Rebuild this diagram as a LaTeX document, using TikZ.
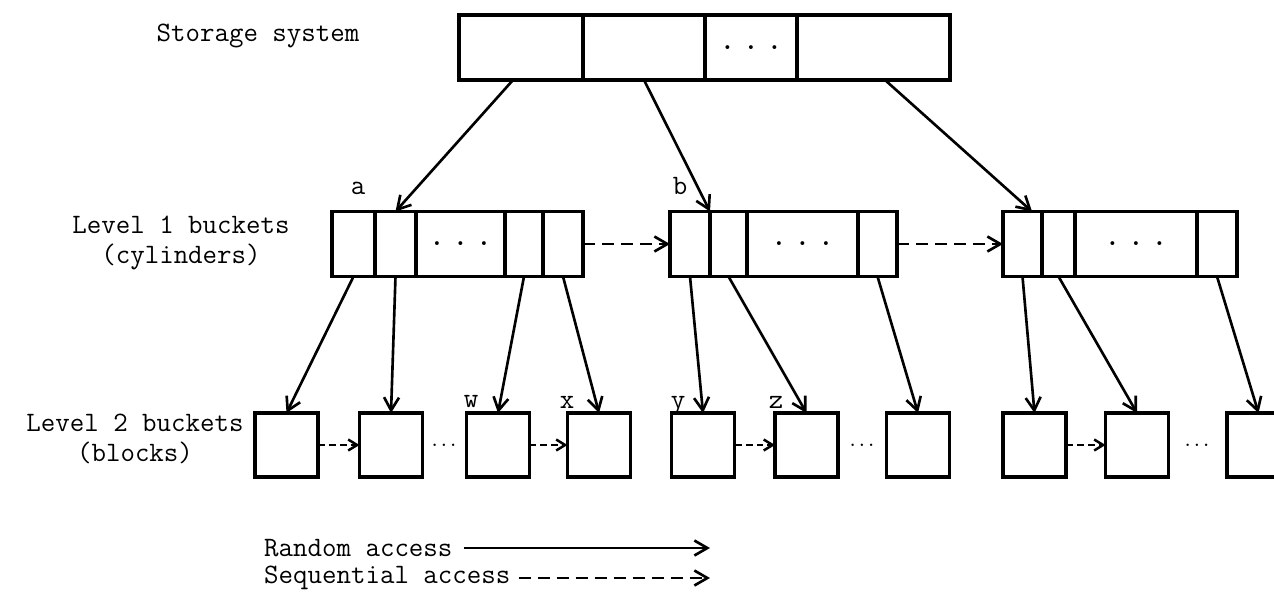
\documentclass[tikz,border=0pt]{standalone}
\usepackage{fontspec}
\usepackage{tikz}
\usetikzlibrary{arrows.meta,positioning}

\newcommand{\celldots}{\bfseries.\hspace{5pt}.\hspace{5pt}.}
\newcommand{\gapdots}{{\fontsize{10}{10}\selectfont\bfseries...}}

\tikzset{
  cell/.style={draw,line width=2pt,minimum height=1.3cm,inner sep=0pt,outer sep=0pt},
  block/.style={draw,line width=2pt,minimum width=1.26cm,minimum height=1.28cm,inner sep=0pt,outer sep=0pt},
  rand/.style={line width=1.5pt,-{Straight Barb[length=2.6mm,width=3mm]}},
  seq/.style={rand,dash pattern=on 0.24cm off 0.14cm},
  seqsmall/.style={line width=1.4pt,dash pattern=on 0.14cm off 0.08cm,-{Straight Barb[length=1.8mm,width=2.2mm]}}
}

\begin{document}
\begin{tikzpicture}[x=0.02cm,y=-0.02cm,font=\ttfamily\fontsize{16}{17}\selectfont]
\path[use as bounding box,clip] (0,0) rectangle (1274,602);
% storage system
\node (storage) at (258,36) {Storage system};
\node[cell,minimum width=2.48cm] (s1) at (521,47.5) {};
\node[cell,minimum width=2.44cm] (s2) at (644,47.5) {};
\node[cell,minimum width=1.84cm] (s3) at (751,47.5) {\celldots};
\node[cell,minimum width=3.06cm] (s4) at (873.5,47.5) {};
% level 1 buckets
\node[align=center] (lvlone) at (181,243) {Level 1 buckets\\(cylinders)};
\node[cell,minimum width=0.86cm] (p1) at (353.5,244) {};
\node[cell,minimum width=0.82cm] (p2) at (395.5,244) {};
\node[cell,minimum width=1.78cm] (p3) at (460.5,244) {\celldots};
\node[cell,minimum width=0.76cm] (p4) at (524,244) {};
\node[cell,minimum width=0.80cm] (p5) at (563,244) {};
\node[cell,minimum width=0.80cm] (q1) at (690,244) {};
\node[cell,minimum width=0.74cm] (q2) at (728.5,244) {};
\node[cell,minimum width=2.22cm] (q3) at (802.5,244) {\celldots};
\node[cell,minimum width=0.78cm] (q4) at (877.5,244) {};
\node[cell,minimum width=0.78cm] (r1) at (1022.5,244) {};
\node[cell,minimum width=0.66cm] (r2) at (1058.5,244) {};
\node[cell,minimum width=2.44cm] (r3) at (1136,244) {\celldots};
\node[cell,minimum width=0.80cm] (r4) at (1217,244) {};
\node (la) at (358,188) {a};
\node (lb) at (680,186) {b};
% level 2 buckets
\node[align=center] (lvltwo) at (135,439) {Level 2 buckets\\(blocks)};
\foreach \n/\x in {1/286.5,2/391,3/498,4/599,5/703,6/806.5,7/918,8/1034.5,9/1137,10/1258.5}
 {\node[block] (b\n) at (\x,445) {};}
\node (d1) at (444,445) {\gapdots};
\node (d2) at (862,445) {\gapdots};
\node (d3) at (1197,445) {\gapdots};
\node (lw) at (471,402) {w};
\node (lx) at (567,402) {x};
\node (ly) at (678,406) {y};
\node (lz) at (776,402) {z};
% random access
\draw[rand] ([xshift=-0.16cm]s1.south) -- (p2.north);
\draw[rand] (s2.south) -- (q1.north east);
\draw[rand] ([xshift=0.23cm]s4.south) -- ([xshift=0.19cm]r1.north);
\foreach \f/\t in {p1/b1,p2/b2,p4/b3,p5/b4,q1/b5,q2/b6,q4/b7,r1/b8,r2/b9,r4/b10}
 {\draw[rand] (\f.south) -- (\t.north);}
% sequential access
\draw[seq] (p5.east) -- (q1.west);
\draw[seq] (q4.east) -- (r1.west);
\foreach \f/\t in {b1/b2,b3/b4,b5/b6,b8/b9}
 {\draw[seqsmall] (\f.east) -- (\t.west);}
% legend
\node[anchor=west] (randtxt) at (258,548) {Random access};
\node[anchor=west] (seqtxt) at (258,578) {Sequential access};
\coordinate (randend) at (710,548);
\coordinate (seqend) at (710,578);
\draw[rand] ([xshift=0.1cm]randtxt.east) -- (randtxt.east -| randend);
\draw[seq] ([xshift=0.04cm]seqtxt.east) -- (seqtxt.east -| seqend);
\end{tikzpicture}
\end{document}
